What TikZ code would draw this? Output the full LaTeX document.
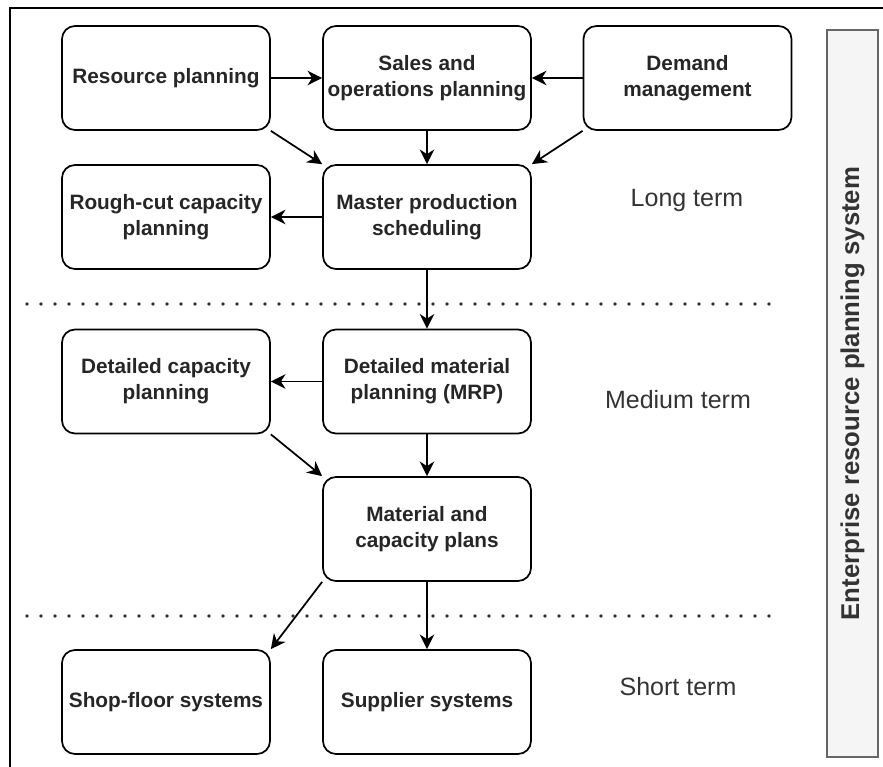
\documentclass[tikz,border=0pt]{standalone}
\usepackage{fontspec}
\setmainfont{Liberation Sans}
\usetikzlibrary{arrows.meta}
\definecolor{txt}{HTML}{262626}
\definecolor{lbl}{HTML}{333333}
\definecolor{barfill}{HTML}{F5F5F5}
\definecolor{barline}{HTML}{666666}
\begin{document}
\begin{tikzpicture}[x=0.75pt,y=-0.75pt,
  box/.style={draw, line width=1.3pt, rounded corners=9.75pt,
    minimum width=156pt, minimum height=78pt, inner sep=0pt,
    align=center, text=txt, font=\bfseries\fontsize{15.6}{19.5}\selectfont},
  arr/.style={-{Stealth[length=11pt,width=11pt,inset=3.5pt]}, line width=1.3pt},
  dotline/.style={line width=2.9pt, line cap=round, dash pattern=on 0pt off 10.5pt, color=lbl},
  termlabel/.style={text=lbl, font=\fontsize{18.75}{22}\selectfont}]
\useasboundingbox (0,0) rectangle (883,767);
% frame
\draw[line width=1.3pt] (10,790) -- (10,8) -- (900,8);
% ERP bar
\node[draw=barline, fill=barfill, line width=1.1pt, minimum width=38.25pt, minimum height=545.25pt, inner sep=0pt] (erpbar) at (852.5,393.5) {};
\node[rotate=90, text=lbl, font=\bfseries\fontsize{19.3}{23}\selectfont] (erp) at (852.5,393.5) {Enterprise resource planning system};
% dotted separators
\coordinate (d1a) at (27,304);
\coordinate (d1b) at (780,304);
\coordinate (d2a) at (27,616);
\coordinate (d2b) at (780,616);
\draw[dotline] (d1a) -- (d1b);
\draw[dotline] (d2a) -- (d2b);
% boxes
\node[box] (rp)  at (166,78)    {Resource planning};
\node[box] (sop) at (427,78)    {Sales and\\operations planning};
\node[box] (dm)  at (687.5,78)  {Demand\\management};
\node[box] (rcc) at (166,217)   {Rough-cut capacity\\planning};
\node[box] (mps) at (427,217)   {Master production\\scheduling};
\node[box] (dcp) at (166,381.5) {Detailed capacity\\planning};
\node[box] (mrp) at (427,381.5) {Detailed material\\planning (MRP)};
\node[box] (mcp) at (427,529)   {Material and\\capacity plans};
\node[box] (sfs) at (166,702)   {Shop-floor systems};
\node[box] (ss)  at (427,702)   {Supplier systems};
% term labels
\node[termlabel] (lt) at (687,200) {Long term};
\node[termlabel] (mt) at (678,400) {Medium term};
\node[termlabel] (st) at (678,687) {Short term};
% connectors
\draw[arr] (rp) -- (sop);
\draw[arr] (dm) -- (sop);
\draw[arr] (sop) -- (mps);
\draw[arr] (rp.south east) -- (mps.north west);
\draw[arr] (dm.south west) -- (mps.north east);
\draw[arr] (mps) -- (rcc);
\draw[arr] (mps) -- (mrp);
\draw[arr] (mrp) -- (dcp);
\draw[arr] (dcp.south east) -- (mcp.north west);
\draw[arr] (mrp) -- (mcp);
\draw[arr] (mcp.south west) -- (sfs.north east);
\draw[arr] (mcp) -- (ss);
\end{tikzpicture}
\end{document}
